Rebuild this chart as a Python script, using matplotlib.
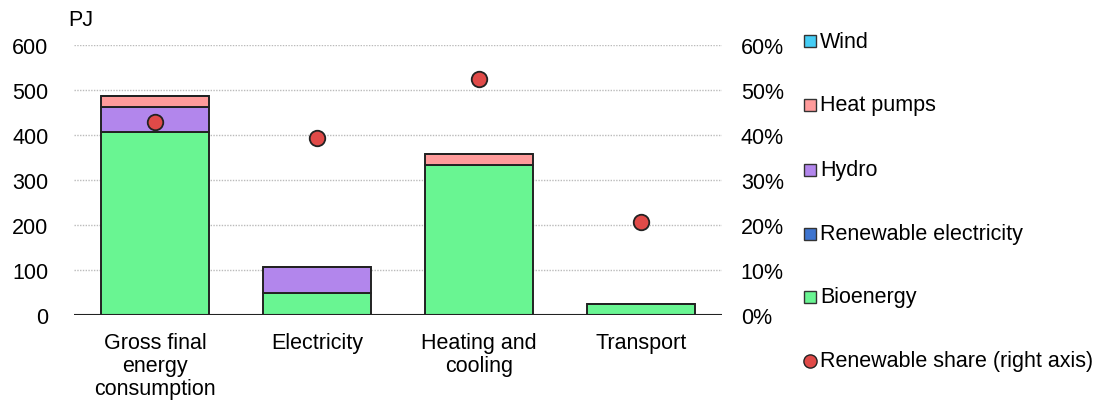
import matplotlib
matplotlib.use("Agg")
import matplotlib.pyplot as plt
from matplotlib.lines import Line2D

plt.rcParams['font.family'] = ['Liberation Sans', 'DejaVu Sans']

categories = ["Gross final\nenergy\nconsumption", "Electricity", "Heating and\ncooling", "Transport"]
bioenergy = [406, 50, 333, 25]
renewable_electricity = [0, 0, 0, 0]
hydro = [56, 56, 0, 0]
heat_pumps = [25, 0, 25, 0]
wind = [0, 0, 0, 0]
renewable_share = [43.0, 39.4, 52.4, 20.6]

left_ticks = [0, 100, 200, 300, 400, 500, 600]
right_ticks = [0, 10, 20, 30, 40, 50, 60]

colors = {
    "Wind": "#45CDF5",
    "Heat pumps": "#FF9B9B",
    "Hydro": "#B286EC",
    "Renewable electricity": "#3D74CF",
    "Bioenergy": "#69F592",
}
dot_color = "#E04A48"
FS = 15.5

fig = plt.figure(figsize=(11.04, 4.02), dpi=100)
ax = fig.add_axes([74/1104, 1-316/402, (722-74)/1104, 270/402])
ax2 = ax.twinx()

x = list(range(len(categories)))
w = 0.67
bottom = [0]*4
for name, vals in [("Bioenergy", bioenergy), ("Renewable electricity", renewable_electricity),
                   ("Hydro", hydro), ("Heat pumps", heat_pumps), ("Wind", wind)]:
    ax.bar(x, vals, w, bottom=bottom, color=colors[name], edgecolor="#222222", linewidth=1.4,
           zorder=3)
    bottom = [b + v for b, v in zip(bottom, vals)]

ax2.scatter(x, renewable_share, s=125, color=dot_color, edgecolor="#222222", linewidth=1.3, zorder=5)

ax.set_xlim(-0.5, 3.5)
ax.set_ylim(0, 600)
ax2.set_ylim(0, 60)
ax.set_yticks(left_ticks)
ax2.set_yticks(right_ticks)
ax2.set_yticklabels([f"{t}%" for t in right_ticks])
ax.set_xticks(x)
ax.set_xticklabels(categories, fontsize=FS, linespacing=1.15)
ax.tick_params(axis='y', labelsize=FS, length=0, pad=18.5)
ax2.tick_params(axis='y', labelsize=FS, length=0, pad=13.5)
ax.tick_params(axis='x', length=0, pad=12)
for a in (ax, ax2):
    for s in ["left", "right", "top", "bottom"]:
        a.spines[s].set_visible(False)
ax.axhline(0, color="#222222", linewidth=1.5, zorder=4)
ax.grid(axis='y', linestyle=(0, (1.0, 1.0)), color="#bbbbbb", linewidth=1.0, zorder=0)
ax.set_axisbelow(True)
ax2.set_zorder(ax.get_zorder()+1)
ax.patch.set_visible(False)
ax2.patch.set_visible(False)

fig.text(68/1104, 1-20/402, "PJ", fontsize=FS, va="center", ha="left")

# legend
legend_items = ["Wind", "Heat pumps", "Hydro", "Renewable electricity", "Bioenergy"]
ys = [42, 106, 171, 235, 298]
for name, yy in zip(legend_items, ys):
    fig.patches.append(plt.Rectangle((803.5/1104, 1-(yy+6)/402), 12/1104, 12/402,
                                     transform=fig.transFigure, facecolor=colors[name],
                                     edgecolor="#333333", linewidth=1.0))
    fig.text(820/1104, 1-yy/402, name, fontsize=FS, va="center", ha="left")
fig.add_artist(Line2D([809.5/1104], [1-362/402], marker='o', markersize=9.5, color=dot_color,
                      markeredgecolor="#222222", markeredgewidth=1.0, transform=fig.transFigure))
fig.text(820/1104, 1-362/402, "Renewable share (right axis)", fontsize=FS, va="center", ha="left")

fig.savefig("out.png", dpi=100)
